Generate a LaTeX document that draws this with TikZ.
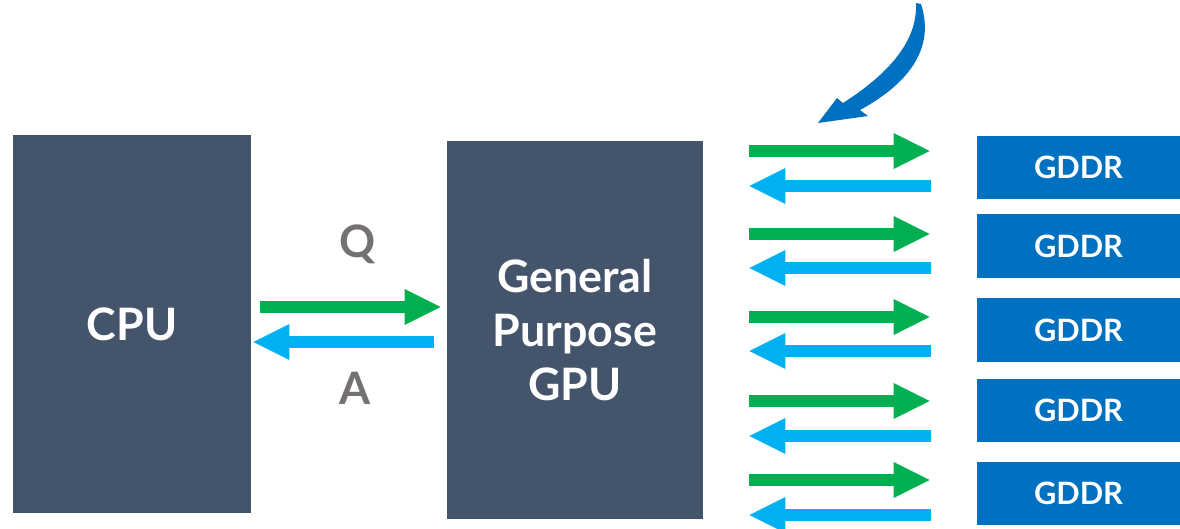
\documentclass[tikz,border=0pt]{standalone}
\usepackage{fontspec}
\setmainfont{Lato}
\usetikzlibrary{arrows.meta}

\definecolor{slate}{HTML}{44546A}
\definecolor{memblue}{HTML}{0070C0}
\definecolor{reqgreen}{HTML}{00B050}
\definecolor{ansblue}{HTML}{00B0F0}
\definecolor{labelgray}{HTML}{767171}

\tikzset{
  chip/.style={fill=slate, text=white, align=center, inner sep=0pt,
    minimum height=9.45cm, font=\bfseries\fontsize{31.8}{38.4}\selectfont},
  gddr/.style={fill=memblue, text=white, inner sep=0pt,
    minimum width=5.075cm, minimum height=1.575cm,
    font=\bfseries\fontsize{21.9}{26}\selectfont},
  qa/.style={text=labelgray, inner sep=0pt, anchor=base,
    font=\bfseries\fontsize{31.8}{38.4}\selectfont},
  req/.style={draw=reqgreen, line width=8.5pt,
    -{Triangle[length=25.6pt, width=25.6pt, line width=0pt]}},
  ans/.style={draw=ansblue, line width=8.5pt,
    -{Triangle[length=25.6pt, width=25.6pt, line width=0pt]}}
}

\begin{document}
\begin{tikzpicture}[x=0.025cm, y=-0.025cm]
\useasboundingbox (0,0) rectangle (1180,528);

% host and device
\node [chip, minimum width=5.95cm] (cpu) at (132,324) {CPU};
\node [chip, minimum width=6.4cm] (gpu) at (575,330) {General\\Purpose\\GPU};

% memory chips
\node [gddr] (gddr1) at (1078.5,167.5) {GDDR};
\node [gddr] (gddr2) at (1078.5,246) {GDDR};
\node [gddr] (gddr3) at (1078.5,330) {GDDR};
\node [gddr] (gddr4) at (1078.5,410.5) {GDDR};
\node [gddr] (gddr5) at (1078.5,493.5) {GDDR};

% question / answer between cpu and gpu
\node [qa] (q) at (358,257) {Q};
\node [qa] (a) at (355,404) {A};
\draw [req, shorten <=6.4pt, shorten >=4.3pt] (cpu.east |- 0,307) -- (gpu.west |- 0,307);
\draw [ans, shorten <=9.2pt, shorten >=1.4pt] (gpu.west |- 0,342) -- (cpu.east |- 0,342);

% memory bus, one pair per chip
\draw [req, shorten <=32.7pt, shorten >=33.4pt] (gpu.east |- 0,151) -- (gddr1.west |- 0,151);
\draw [ans, shorten <=32.7pt, shorten >=32.7pt] (gddr1.west |- 0,186) -- (gpu.east |- 0,186);
\draw [req, shorten <=32.7pt, shorten >=33.4pt] (gpu.east |- 0,234) -- (gddr2.west |- 0,234);
\draw [ans, shorten <=32.7pt, shorten >=32.7pt] (gddr2.west |- 0,268) -- (gpu.east |- 0,268);
\draw [req, shorten <=32.7pt, shorten >=33.4pt] (gpu.east |- 0,317) -- (gddr3.west |- 0,317);
\draw [ans, shorten <=32.7pt, shorten >=32.7pt] (gddr3.west |- 0,351) -- (gpu.east |- 0,351);
\draw [req, shorten <=32.7pt, shorten >=33.4pt] (gpu.east |- 0,401) -- (gddr4.west |- 0,401);
\draw [ans, shorten <=32.7pt, shorten >=32.7pt] (gddr4.west |- 0,436) -- (gpu.east |- 0,436);
\draw [req, shorten <=32.7pt, shorten >=33.4pt] (gpu.east |- 0,480) -- (gddr5.west |- 0,480);
\draw [ans, shorten <=32.7pt, shorten >=32.7pt] (gddr5.west |- 0,515) -- (gpu.east |- 0,515);

% curved pointer onto the bus
\fill [memblue] (916,3) .. controls (918,45) and (882,78) .. (843,103)
  -- (837,98) -- (818,123) -- (868,116) -- (860,110)
  .. controls (906,85) and (936,50) .. (921,4) -- cycle;
\end{tikzpicture}
\end{document}
